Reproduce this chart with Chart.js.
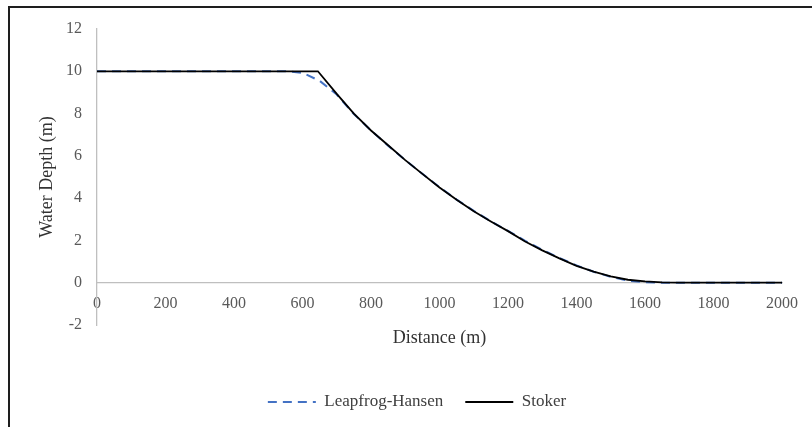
<!DOCTYPE html>
<html>
<head>
<meta charset="utf-8">
<script src="https://cdn.jsdelivr.net/npm/chart.js@4.4.1/dist/chart.umd.min.js"></script>
<style>
  html, body { margin: 0; padding: 0; background: #ffffff; }
  #wrap { position: relative; width: 812px; height: 427px; overflow: hidden; background: #fff; }
  #c { position: absolute; left: 0; top: 0; }
  #frame { position: absolute; left: 8px; top: 6px; width: 820px; height: 440px;
           border-top: 2px solid #1e1e1e; border-left: 2px solid #1e1e1e; pointer-events: none; }
</style>
</head>
<body>
<div id="wrap">
  <canvas id="c" width="812" height="427"></canvas>
  <div id="frame"></div>
</div>
<script>
// ---- data ----
const seriesNames = ["Leapfrog-Hansen", "Stoker"];

const leapfrogDistance = [0, 50, 100, 150, 200, 250, 300, 350, 400, 450, 500, 550,
  600, 650, 700, 750, 800, 850, 900, 950, 1000, 1050, 1100, 1150, 1200, 1250, 1300,
  1350, 1400, 1450, 1500, 1550, 1600, 1650, 1700, 1750, 1800, 1850, 1900, 1950, 2000];
const leapfrogDepth = [10, 10, 10, 10, 10, 10, 10, 10, 10, 10, 10, 10,
  9.93, 9.55, 8.9, 7.98, 7.2, 6.48, 5.8, 5.15, 4.52, 3.93, 3.4, 2.9, 2.45, 1.98, 1.56,
  1.17, 0.82, 0.52, 0.28, 0.1, 0.02, 0, 0, 0, 0, 0, 0, 0, 0];

const stokerDistance = [0, 645, 700, 750, 800, 850, 900, 950, 1000, 1050, 1100, 1150,
  1200, 1250, 1300, 1350, 1400, 1450, 1500, 1550, 1600, 1650, 1700, 2000];
const stokerDepth = [10, 10, 8.93, 8.0, 7.2, 6.5, 5.8, 5.15, 4.5, 3.92, 3.38, 2.9,
  2.44, 1.95, 1.53, 1.15, 0.8, 0.52, 0.3, 0.14, 0.06, 0.02, 0, 0];

const xTickRange = { min: 0, max: 2000, step: 200 };
const yTickRange = { min: -2, max: 12, step: 2 };

const xTitle = "Distance (m)";
const yTitle = "Water Depth (m)";

// ---- build chart ----
const toPoints = (xs, ys) => xs.map((x, i) => ({ x: x, y: ys[i] }));
const serif = "'Liberation Serif', 'Times New Roman', serif";
const plainTick = (v) => String(v);

new Chart(document.getElementById('c'), {
  type: 'line',
  data: {
    datasets: [
      {
        label: seriesNames[0],
        data: toPoints(leapfrogDistance, leapfrogDepth),
        borderColor: '#4472C4',
        backgroundColor: '#4472C4',
        borderWidth: 2,
        borderDash: [9, 6],
        pointRadius: 0,
        pointStyle: 'line',
        tension: 0,
        fill: false,
        order: 1
      },
      {
        label: seriesNames[1],
        data: toPoints(stokerDistance, stokerDepth),
        borderColor: '#000000',
        backgroundColor: '#000000',
        borderWidth: 1.8,
        pointRadius: 0,
        pointStyle: 'line',
        tension: 0,
        fill: false,
        order: 0
      }
    ]
  },
  options: {
    responsive: false,
    animation: false,
    devicePixelRatio: 1,
    layout: { padding: { left: 52, right: 30, top: 29, bottom: 6.5 } },
    scales: {
      x: {
        type: 'linear',
        position: { y: 0 },
        min: xTickRange.min,
        max: xTickRange.max,
        grid: { display: false, drawTicks: false },
        border: { display: true, color: '#BFBFBF', width: 1.3 },
        ticks: {
          stepSize: xTickRange.step,
          padding: 11,
          maxRotation: 0,
          color: '#595959',
          font: { family: serif, size: 16 },
          callback: plainTick
        },
        title: {
          display: true,
          text: xTitle,
          color: '#333333',
          font: { family: serif, size: 18 },
          padding: { top: 0, bottom: -20.3 }
        },
        afterFit: (s) => { s.height = 46.5; }
      },
      xSpace: {
        type: 'linear',
        position: 'bottom',
        display: true,
        grid: { display: false, drawTicks: false },
        border: { display: false },
        ticks: { display: false },
        title: { display: false },
        afterFit: (s) => { s.height = 46.5; }
      },
      y: {
        type: 'linear',
        position: 'left',
        min: yTickRange.min,
        max: yTickRange.max,
        grid: { display: false, drawTicks: false },
        border: { display: true, color: '#BFBFBF', width: 1.3 },
        ticks: {
          stepSize: yTickRange.step,
          padding: 15,
          color: '#595959',
          font: { family: serif, size: 16 },
          callback: plainTick
        },
        title: {
          display: true,
          text: yTitle,
          color: '#333333',
          font: { family: serif, size: 18 },
          padding: { top: -15.8, bottom: 0 }
        },
        afterFit: (s) => { s.width = 45; }
      }
    },
    plugins: {
      legend: {
        display: true,
        position: 'bottom',
        labels: {
          usePointStyle: true,
          pointStyleWidth: 48,
          padding: 22,
          color: '#404040',
          font: { family: serif, size: 17 },
          sort: (a, b) => a.datasetIndex - b.datasetIndex,
          generateLabels: (chart) => {
            const items = Chart.defaults.plugins.legend.labels.generateLabels(chart);
            items.forEach((it) => {
              const ds = chart.data.datasets[it.datasetIndex];
              it.lineDash = ds.borderDash || [];
              it.lineWidth = ds.borderWidth;
              it.strokeStyle = ds.borderColor;
            });
            return items;
          }
        }
      },
      tooltip: { enabled: false }
    }
  }
});
</script>
</body>
</html>
